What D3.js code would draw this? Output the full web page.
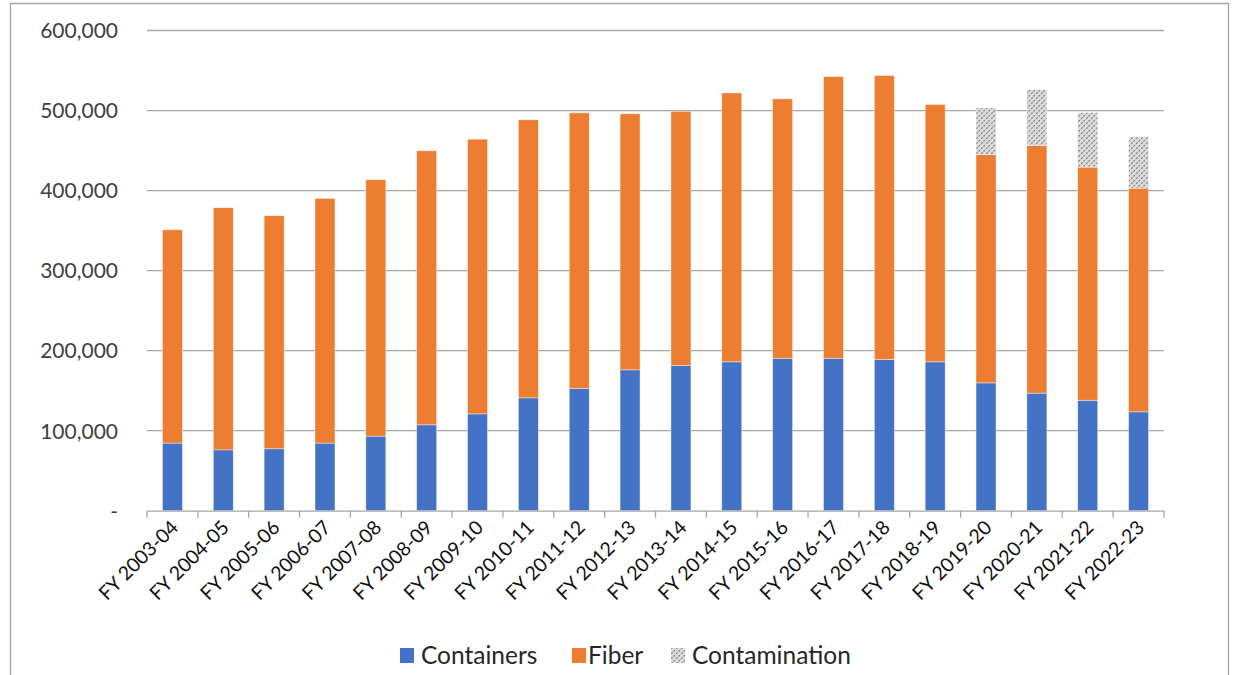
<!DOCTYPE html>
<html><head><meta charset="utf-8">
<script src="https://cdn.jsdelivr.net/npm/d3@7/dist/d3.min.js"></script>
<style>html,body{margin:0;padding:0;background:#fff;}svg{display:block;}</style>
</head><body>
<svg id="chart" width="1233" height="675"></svg>
<script>
const categories = ["FY 2003-04","FY 2004-05","FY 2005-06","FY 2006-07","FY 2007-08","FY 2008-09","FY 2009-10","FY 2010-11","FY 2011-12","FY 2012-13","FY 2013-14","FY 2014-15","FY 2015-16","FY 2016-17","FY 2017-18","FY 2018-19","FY 2019-20","FY 2020-21","FY 2021-22","FY 2022-23"];
const containers = [84500,76100,77400,84500,93200,107300,121000,141000,152700,176000,181400,186000,190500,190500,189000,186000,159700,146900,138000,123500];
const fiber = [266500,302500,291200,305700,320300,342400,343200,347400,344400,319900,317600,336000,324100,351900,354700,321500,285300,309400,291300,279500];
const contamination = [0,0,0,0,0,0,0,0,0,0,0,0,0,0,0,0,58400,69900,68200,64200];
const yTicks = [0,100000,200000,300000,400000,500000,600000];
const seriesNames = ["Containers","Fiber","Contamination"];

const svg = d3.select("#chart");
const W = 1233, H = 675;
const m = {left:147, right:1164, top:30.5, bottom:510.7};
const font = "Lato, 'Open Sans', sans-serif";

// pattern
const defs = svg.append("defs");
const pat = defs.append("pattern").attr("id","hatch").attr("patternUnits","userSpaceOnUse")
  .attr("width",5).attr("height",5);
pat.append("rect").attr("width",5).attr("height",5).attr("fill","#dcdcdc");
pat.append("path").attr("d","M-1,6 L6,-1").attr("stroke","#7f7f7f").attr("stroke-width",1.2).attr("stroke-dasharray","2,1.2");

// frame
svg.append("path").attr("d",`M10.5,${H+2} L10.5,3.5 L1228.5,3.5 L1228.5,${H+2}`)
  .attr("fill","none").attr("stroke","#a6a6a6").attr("stroke-width",1.3);

const x = d3.scaleBand().domain(categories).range([m.left, m.right]).paddingInner(0).paddingOuter(0);
const y = d3.scaleLinear().domain([0,600000]).range([m.bottom, m.top]);

// gridlines
svg.append("g").selectAll("line").data(yTicks.filter(d=>d>0)).join("line")
  .attr("x1",m.left).attr("x2",m.right).attr("y1",d=>y(d)).attr("y2",d=>y(d))
  .attr("stroke","#a6a6a6").attr("stroke-width",1.3);

// y labels
const yAxis = d3.axisLeft(y).tickValues(yTicks).tickSize(0).tickPadding(0)
  .tickFormat(d=> d===0 ? "-" : d3.format(",")(d));
const ya = svg.append("g").attr("transform",`translate(${m.left-29},0)`).call(yAxis);
ya.select(".domain").remove();
ya.selectAll("text").attr("font-family",font).attr("font-size",21).attr("fill","#404040").attr("dy","0.35em");

// stacked bars
const rows = categories.map((c,i)=>({cat:c, Containers:containers[i], Fiber:fiber[i], Contamination:contamination[i]}));
const stack = d3.stack().keys(seriesNames)(rows);
const fills = {Containers:"#4472C4", Fiber:"#ED7D31", Contamination:"url(#hatch)"};
const bw = 20;
svg.append("g").selectAll("g").data(stack).join("g").attr("fill",d=>fills[d.key])
  .selectAll("rect").data(d=>d.filter(p=>p[1]-p[0]>0)).join("rect")
  .attr("x",d=>x(d.data.cat)+x.bandwidth()/2-bw/2).attr("width",bw)
  .attr("y",d=>y(d[1])).attr("height",d=>y(d[0])-y(d[1]))
  .attr("stroke","#ffffff").attr("stroke-opacity",0.6).attr("stroke-width",0.7);

// x axis
const xAxis = d3.axisBottom(x).tickSize(0).tickSizeOuter(0);
const xa = svg.append("g").attr("transform",`translate(0,${m.bottom})`).call(xAxis);
xa.select(".domain").attr("stroke","#a6a6a6").attr("stroke-width",1.3);
xa.selectAll("text").attr("font-family",font).attr("font-size",19.5).attr("fill","#111")
  .attr("text-anchor","end").attr("dy","0").attr("y",0)
  .attr("transform","translate(7,18) rotate(-45)");
// tick marks at band boundaries
const bounds = categories.map(c=>x(c)).concat([m.right]);
svg.append("g").selectAll("line").data(bounds).join("line")
  .attr("x1",d=>d).attr("x2",d=>d).attr("y1",m.bottom).attr("y2",m.bottom+7)
  .attr("stroke","#a6a6a6").attr("stroke-width",1.3);

// legend
const legend = [
  {name:"Containers", fill:fills.Containers, sx:400, tx:421},
  {name:"Fiber", fill:fills.Fiber, sx:572, tx:588},
  {name:"Contamination", fill:fills.Contamination, sx:671, tx:692}
];
const lg = svg.append("g");
lg.selectAll("rect").data(legend).join("rect")
  .attr("x",d=>d.sx).attr("y",648).attr("width",14).attr("height",15).attr("fill",d=>d.fill);
lg.selectAll("text").data(legend).join("text")
  .attr("x",d=>d.tx).attr("y",655).attr("dy","0.35em")
  .attr("font-family",font).attr("font-size",24.5).attr("fill","#262626").text(d=>d.name);
</script>
</body></html>
